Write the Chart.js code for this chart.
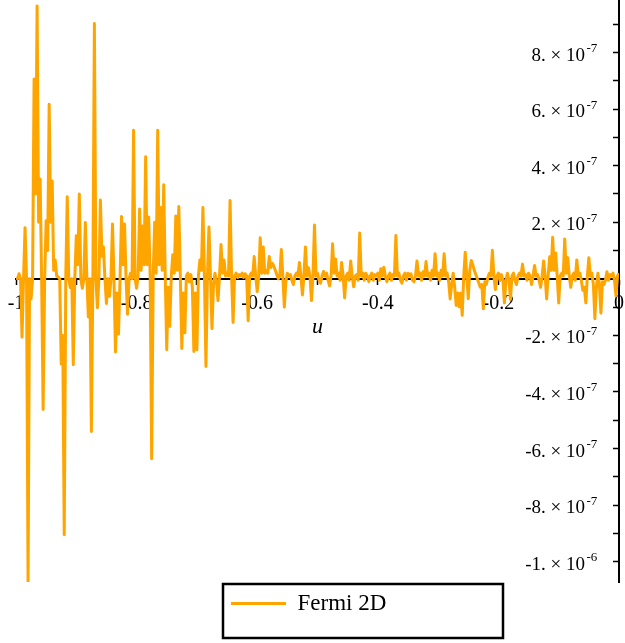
<!DOCTYPE html>
<html><head><meta charset="utf-8">
<script src="https://cdn.jsdelivr.net/npm/chart.js@4/dist/chart.umd.min.js"></script>
<style>html,body{margin:0;padding:0;background:#fff;overflow:hidden}</style>
</head><body>
<canvas id="c" width="625" height="643"></canvas>
<script>
// ---- data ----
const seriesName = 'Fermi 2D';
const u = [
-1.0000,-0.9975,-0.9950,-0.9925,-0.9900,-0.9875,-0.9850,-0.9825,-0.9800,-0.9775,
-0.9750,-0.9725,-0.9700,-0.9675,-0.9650,-0.9625,-0.9600,-0.9575,-0.9550,-0.9525,
-0.9500,-0.9475,-0.9450,-0.9425,-0.9400,-0.9375,-0.9350,-0.9325,-0.9300,-0.9275,
-0.9250,-0.9225,-0.9200,-0.9175,-0.9150,-0.9125,-0.9100,-0.9075,-0.9050,-0.9025,
-0.9000,-0.8975,-0.8950,-0.8925,-0.8900,-0.8875,-0.8850,-0.8825,-0.8800,-0.8775,
-0.8750,-0.8725,-0.8700,-0.8675,-0.8650,-0.8625,-0.8600,-0.8575,-0.8550,-0.8525,
-0.8500,-0.8475,-0.8450,-0.8425,-0.8400,-0.8375,-0.8350,-0.8325,-0.8300,-0.8275,
-0.8250,-0.8225,-0.8200,-0.8175,-0.8150,-0.8125,-0.8100,-0.8075,-0.8050,-0.8025,
-0.8000,-0.7975,-0.7950,-0.7925,-0.7900,-0.7875,-0.7850,-0.7825,-0.7800,-0.7775,
-0.7750,-0.7725,-0.7700,-0.7675,-0.7650,-0.7625,-0.7600,-0.7575,-0.7550,-0.7525,
-0.7500,-0.7475,-0.7450,-0.7425,-0.7400,-0.7375,-0.7350,-0.7325,-0.7300,-0.7275,
-0.7250,-0.7225,-0.7200,-0.7175,-0.7150,-0.7125,-0.7100,-0.7075,-0.7050,-0.7025,
-0.7000,-0.6975,-0.6950,-0.6925,-0.6900,-0.6875,-0.6850,-0.6825,-0.6800,-0.6775,
-0.6750,-0.6725,-0.6700,-0.6675,-0.6650,-0.6625,-0.6600,-0.6575,-0.6550,-0.6525,
-0.6500,-0.6475,-0.6450,-0.6425,-0.6400,-0.6375,-0.6350,-0.6325,-0.6300,-0.6275,
-0.6250,-0.6225,-0.6200,-0.6175,-0.6150,-0.6125,-0.6100,-0.6075,-0.6050,-0.6025,
-0.6000,-0.5975,-0.5950,-0.5925,-0.5900,-0.5875,-0.5850,-0.5825,-0.5800,-0.5775,
-0.5750,-0.5725,-0.5700,-0.5675,-0.5650,-0.5625,-0.5600,-0.5575,-0.5550,-0.5525,
-0.5500,-0.5475,-0.5450,-0.5425,-0.5400,-0.5375,-0.5350,-0.5325,-0.5300,-0.5275,
-0.5250,-0.5225,-0.5200,-0.5175,-0.5150,-0.5125,-0.5100,-0.5075,-0.5050,-0.5025,
-0.5000,-0.4975,-0.4950,-0.4925,-0.4900,-0.4875,-0.4850,-0.4825,-0.4800,-0.4775,
-0.4750,-0.4725,-0.4700,-0.4675,-0.4650,-0.4625,-0.4600,-0.4575,-0.4550,-0.4525,
-0.4500,-0.4475,-0.4450,-0.4425,-0.4400,-0.4375,-0.4350,-0.4325,-0.4300,-0.4275,
-0.4250,-0.4225,-0.4200,-0.4175,-0.4150,-0.4125,-0.4100,-0.4075,-0.4050,-0.4025,
-0.4000,-0.3975,-0.3950,-0.3925,-0.3900,-0.3875,-0.3850,-0.3825,-0.3800,-0.3775,
-0.3750,-0.3725,-0.3700,-0.3675,-0.3650,-0.3625,-0.3600,-0.3575,-0.3550,-0.3525,
-0.3500,-0.3475,-0.3450,-0.3425,-0.3400,-0.3375,-0.3350,-0.3325,-0.3300,-0.3275,
-0.3250,-0.3225,-0.3200,-0.3175,-0.3150,-0.3125,-0.3100,-0.3075,-0.3050,-0.3025,
-0.3000,-0.2975,-0.2950,-0.2925,-0.2900,-0.2875,-0.2850,-0.2825,-0.2800,-0.2775,
-0.2750,-0.2725,-0.2700,-0.2675,-0.2650,-0.2625,-0.2600,-0.2575,-0.2550,-0.2525,
-0.2500,-0.2475,-0.2450,-0.2425,-0.2400,-0.2375,-0.2350,-0.2325,-0.2300,-0.2275,
-0.2250,-0.2225,-0.2200,-0.2175,-0.2150,-0.2125,-0.2100,-0.2075,-0.2050,-0.2025,
-0.2000,-0.1975,-0.1950,-0.1925,-0.1900,-0.1875,-0.1850,-0.1825,-0.1800,-0.1775,
-0.1750,-0.1725,-0.1700,-0.1675,-0.1650,-0.1625,-0.1600,-0.1575,-0.1550,-0.1525,
-0.1500,-0.1475,-0.1450,-0.1425,-0.1400,-0.1375,-0.1350,-0.1325,-0.1300,-0.1275,
-0.1250,-0.1225,-0.1200,-0.1175,-0.1150,-0.1125,-0.1100,-0.1075,-0.1050,-0.1025,
-0.1000,-0.0975,-0.0950,-0.0925,-0.0900,-0.0875,-0.0850,-0.0825,-0.0800,-0.0775,
-0.0750,-0.0725,-0.0700,-0.0675,-0.0650,-0.0625,-0.0600,-0.0575,-0.0550,-0.0525,
-0.0500,-0.0475,-0.0450,-0.0425,-0.0400,-0.0375,-0.0350,-0.0325,-0.0300,-0.0275,
-0.0250,-0.0225,-0.0200,-0.0175,-0.0150,-0.0125,-0.0100,-0.0075,-0.0050,-0.0025,
0.0000
];
// Fermi 2D values, in units of 1e-7
const fermi2D_e7 = [
0.05,0,0.18,0,-2.06,0,1.81,0,-10.7,0,
-0.71,0,7.07,3.0,9.65,2.0,3.53,0,-4.62,0,
2.05,1.0,6.17,2.0,3.46,0.3,0.67,0.1,0.07,0,
-3.01,-2.0,-9.05,0,2.9,0,-0.31,0,-3.04,0,
1.52,0.5,3.0,0,-0.33,0,1.99,0,-1.35,0,
-5.4,0,9.03,0,-1.02,0,2.79,0.8,1.13,0,
-0.87,0,-0.62,0,1.94,0,-2.59,-0.5,-1.95,0,
2.2,0.5,1.94,0,-1.25,0,0.2,0,5.25,0,
-0.33,0.1,2.47,0.3,1.87,0.5,4.32,0.5,2.19,0.1,
-6.36,0.1,2.0,0.2,5.25,0.5,2.52,0.3,3.33,0.1,
-2.51,-0.3,-1.68,0.1,0.85,0.2,2.22,0.3,2.56,0.1,
-2.46,-0.5,-1.91,0.1,0.2,-0.1,0.15,-0.3,-2.57,-0.5,
-2.51,0.1,0.67,0.3,2.52,0.1,-3.1,0.1,1.83,0.1,
-1.76,-0.2,0.2,-0.1,-0.77,0.1,1.21,0.2,0.67,0.1,
0.2,0.1,2.77,0.1,-1.54,0.1,0.2,0.05,0.15,0.1,
0.2,0.05,0.18,0.1,-1.48,0.1,0.2,0.1,0.79,0.1,
-0.45,0.1,1.45,0.2,1.13,0.2,0.3,0.2,0.79,0.4,
0.55,0.45,0.3,0.15,0.0,0.1,1.04,0.1,-1.0,-0.1,
0.2,0.1,0.15,-0.05,-0.2,0.1,0.2,0.1,0.58,0.1,
-0.57,0.1,1.13,0.1,0.39,0.1,-0.77,0.1,1.9,0.1,
0.2,-0.05,-0.15,0.1,0.26,0.1,0.2,-0.05,-0.25,0.1,
1.24,0.2,0.7,0.1,0.2,-0.05,0.58,0.1,-0.67,0.1,
0.2,-0.05,0.63,0.1,-0.28,0.1,0.15,-0.05,1.62,0.1,
0.2,-0.05,0.2,0.1,-0.1,0.1,0.2,-0.05,0.15,0.1,
0.2,-0.05,0.36,0.1,0.41,0.1,-0.1,0.1,0.2,-0.05,
0.15,0.1,1.53,0.1,0.2,-0.05,-0.15,0.1,0.2,-0.05,
0.2,0.1,0.18,-0.05,-0.1,0.1,0.63,0.1,0.2,-0.05,
0.25,0.1,0.61,0.1,0.2,-0.05,0.3,0.1,0.89,0.1,
0.2,-0.05,0.3,0.1,0.89,0.1,0.2,-0.1,-0.71,-0.2,
0.2,-0.3,-0.94,-0.5,-0.99,-0.5,-1.29,0.1,0.94,0.1,
-0.7,0.3,0.65,0.5,0.3,0.15,0.0,-0.15,-0.3,-0.2,
-1.06,-0.1,-0.2,0.05,0.2,0.1,1.01,0.1,-0.38,0.1,
0.2,-0.05,0.15,-0.05,-0.85,-0.05,0.2,-0.05,-0.73,0.1,
0.2,-0.05,-0.2,0.1,0.2,0.1,0.52,0.1,0.15,-0.05,
0.2,0.1,-0.2,0.1,0.47,0.1,0.15,-0.05,-0.3,0.1,
0.63,0.1,-0.71,0.1,0.78,0.3,1.47,0.3,0.91,0.1,
-0.85,0.1,0.2,0.1,1.41,0.2,0.75,0.1,-0.3,0.1,
0.2,-0.05,0.67,0.1,0.2,-0.05,-0.4,-0.3,-0.85,0.1,
0.75,0.1,0.2,-0.2,-1.41,-0.3,0.2,-0.2,-1.21,-0.1,
-0.2,-0.05,0.25,-0.05,0.15,0.1,0.2,-0.05,-0.6,0.1,
0.2
];
const xTickValues = [-1, -0.8, -0.6, -0.4, -0.2, 0];
const xTickLabels = ['-1', '-0.8', '-0.6', '-0.4', '-0.2', '0'];
const yTickValues = [-1e-6, -8e-7, -6e-7, -4e-7, -2e-7, 2e-7, 4e-7, 6e-7, 8e-7];
const yTickMain = ['-1. × 10', '-8. × 10', '-6. × 10', '-4. × 10', '-2. × 10',
                   '2. × 10', '4. × 10', '6. × 10', '8. × 10'];
const yTickExp = ['-6', '-7', '-7', '-7', '-7', '-7', '-7', '-7', '-7'];
const xTitle = 'u';
const xRange = [-1, 0];
const yRange = [-1.072e-6, 9.86e-7];

// ---- chart ----
const SERIF = "'Liberation Serif', 'Times New Roman', 'DejaVu Serif', serif";
const ORANGE = '#FFA500';
Chart.defaults.font.family = SERIF;
Chart.defaults.color = '#000';

const points = u.map((x, i) => ({ x: x, y: fermi2D_e7[i] * 1e-7 }));

function indexFor(values, v, eps) {
  for (let k = 0; k < values.length; k++) if (Math.abs(values[k] - v) < eps) return k;
  return -1;
}
const zeroPad = (s) => { s.paddingLeft = 0; s.paddingRight = 0; s.paddingTop = 0; s.paddingBottom = 0; };

const Y_TICK_LEN = 5, Y_LABEL_GAP = 34, MAIN_SIZE = 19, EXP_SIZE = 13;

// legend frame + y tick labels (mantissa with superscript exponent)
const extras = {
  id: 'extras',
  afterLayout(chart) {
    const lg = chart.legend;
    lg.left = 223; lg.right = 503; lg.width = 280;
    lg.top = 584; lg.bottom = 638; lg.height = 54;
  },
  afterDraw(chart) {
    const ctx = chart.ctx, lg = chart.legend;
    ctx.save();
    ctx.strokeStyle = '#000';
    ctx.lineWidth = 2.5;
    ctx.strokeRect(lg.left, lg.top, lg.width, lg.height);
    const ys = chart.scales.y, xs = chart.scales.x;
    const axisX = xs.getPixelForValue(0);
    const xRight = axisX - Y_LABEL_GAP;
    ctx.fillStyle = '#000';
    ctx.textBaseline = 'alphabetic';
    yTickValues.forEach((v, k) => {
      const py = ys.getPixelForValue(v);
      ctx.font = MAIN_SIZE + 'px ' + SERIF;
      ctx.textAlign = 'right';
      ctx.fillText(yTickMain[k], xRight, py + 8);
      ctx.font = EXP_SIZE + 'px ' + SERIF;
      ctx.textAlign = 'left';
      ctx.fillText(yTickExp[k], xRight + 1.5, py - 0.5);
    });
    ctx.restore();
  }
};

new Chart(document.getElementById('c'), {
  type: 'line',
  data: {
    datasets: [{
      label: seriesName,
      data: points,
      borderColor: ORANGE,
      backgroundColor: ORANGE,
      borderWidth: 3,
      pointRadius: 0,
      tension: 0,
      fill: false,
      borderJoinStyle: 'round'
    }]
  },
  options: {
    responsive: false,
    animation: false,
    devicePixelRatio: 1,
    layout: { padding: { left: 16, right: 6, top: 0, bottom: 61 } },
    plugins: {
      tooltip: { enabled: false },
      legend: {
        position: 'chartArea',
        align: 'start',
        labels: {
          color: '#000',
          font: { family: SERIF, size: 23 },
          boxWidth: 55,
          boxHeight: 3,
          padding: 8,
          generateLabels: () => [{
            text: seriesName, fillStyle: ORANGE, strokeStyle: ORANGE,
            lineWidth: 0, hidden: false, datasetIndex: 0
          }]
        }
      }
    },
    scales: {
      x: {
        type: 'linear',
        min: xRange[0], max: xRange[1],
        position: { y: 0 },
        z: 1,
        afterFit: zeroPad,
        ticks: {
          stepSize: 0.1, autoSkip: false, includeBounds: false, maxRotation: 0,
          padding: 8, color: '#000', font: { family: SERIF, size: 20 },
          callback: (v) => { const k = indexFor(xTickValues, v, 1e-9); return k < 0 ? '' : xTickLabels[k]; }
        },
        grid: { drawOnChartArea: false, drawTicks: true, tickLength: 5, color: '#000', tickWidth: 1.5 },
        border: { display: true, color: '#000', width: 2 },
        title: {
          display: true, text: xTitle, color: '#000',
          font: { family: SERIF, size: 22, style: 'italic' },
          padding: { top: -10, bottom: 0 }
        }
      },
      y: {
        type: 'linear',
        min: yRange[0], max: yRange[1],
        position: { x: 0 },
        z: 1,
        afterFit: zeroPad,
        ticks: {
          display: false,
          stepSize: 1e-7, autoSkip: false, includeBounds: false
        },
        grid: { drawOnChartArea: false, drawTicks: true, tickLength: Y_TICK_LEN, color: '#000', tickWidth: 1.5 },
        border: { display: true, color: '#000', width: 2 }
      }
    }
  },
  plugins: [extras]
});
</script>
</body></html>
